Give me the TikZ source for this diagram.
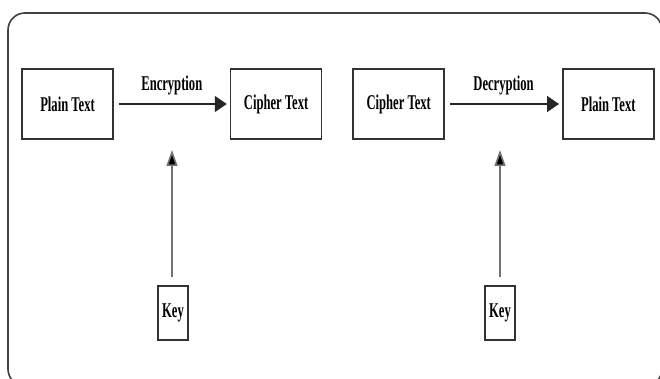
\documentclass[tikz,border=0pt]{standalone}
\usepackage{fontspec}
\setmainfont{Liberation Serif}[FakeStretch=0.6]
\usetikzlibrary{positioning,arrows.meta}
\begin{document}
\begin{tikzpicture}[x=1pt,y=1pt]
    \tikzstyle{box} = [rectangle, minimum width = 91pt, minimum height = 70pt, text centered, draw = black!80, line width = 1.6pt, font = \bfseries\fontsize{21}{24}\selectfont]
    \tikzstyle{keybox} = [box, minimum width = 30pt, minimum height = 54pt, inner sep = 0pt]
    \tikzstyle{arrow} = [line width = 1.6pt, draw = black!85, -{Triangle[length = 12pt, width = 16pt]}]
    \tikzstyle{keyarrow} = [line width = 1.6pt, draw = black!55, -{Triangle[length = 16pt, width = 11pt, fill = black]}]
    \tikzstyle{label} = [font = \bfseries\fontsize{21}{24}\selectfont]

    \useasboundingbox (0,0) rectangle (660,-379);
    \begin{scope}
    \clip (0,0) rectangle (660,-379);
    \draw[line width = 1.6pt, black!75, rounded corners = 17pt] (8,-13) rectangle (662,-386);
    \end{scope}

    \node[box](P1) at (67.5,-104){Plain Text};
    \node[box, right = 116pt of P1](C1){Cipher Text};
    \node[box, right = 30pt of C1](C2){Cipher Text};
    \node[box, right = 117pt of C2](P2){Plain Text};

    \node[keybox](K1) at (173,-313){Key};
    \node[keybox](K2) at (500,-313){Key};

    \coordinate (E1) at (172,-150);
    \coordinate (E2) at (500,-150);

    \draw[arrow, shorten <= 5pt, shorten >= 3pt] (P1)--node[label, above, yshift = 5pt]{Encryption}(C1);
    \draw[arrow, shorten <= 5pt, shorten >= 3pt] (C2)--node[label, above, yshift = 5pt]{Decryption}(P2);

    \draw[keyarrow, shorten <= 8pt] (K1.north -| E1)--(E1);
    \draw[keyarrow, shorten <= 8pt] (K2.north -| E2)--(E2);

\end{tikzpicture}
\end{document}
